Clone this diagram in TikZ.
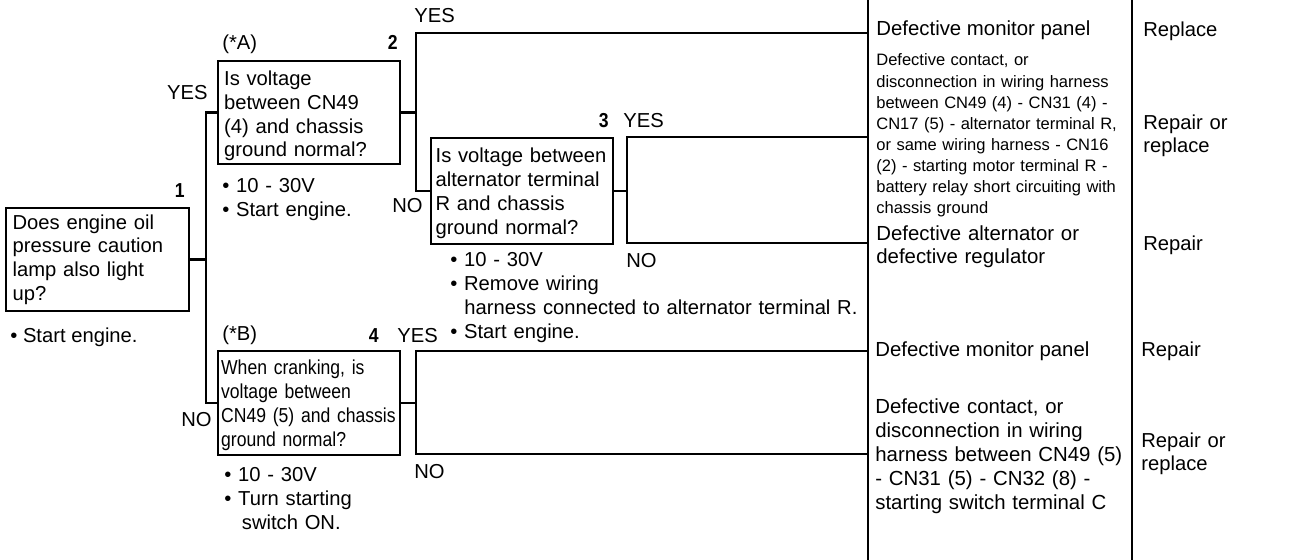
\documentclass[tikz,border=0pt]{standalone}
\usepackage{fontspec}
\setmainfont{Liberation Sans}
\newfontfamily\narrowfont[FakeStretch=0.87]{Liberation Sans}
\newcommand\qsize{\fontsize{11.5}{13.6}\selectfont}
\newcommand\fsize{\fontsize{9.4}{12}\selectfont}

\begin{document}
\begin{tikzpicture}[
  x=0.02cm, y=-0.02cm,
  font=\qsize,
  wire/.style={draw, line width=1.3pt},
  qbox/.style={draw, line width=1.3pt, anchor=north west, align=left, inner ysep=0pt},
  txt/.style={inner sep=0pt, anchor=base west, align=left},
  mtxt/.style={txt, text width=#1},
  rtxt/.style={inner sep=0pt, anchor=base east},
  num/.style={rtxt, font=\narrowfont\bfseries\qsize}
  ]
  \useasboundingbox (0,0) rectangle (1296,560);
  \hyphenpenalty=10000

  \node[qbox, text width=3.4cm, inner xsep=0.13cm, minimum height=2.06cm] (q1) at (5,207)
    {Does engine oil\\pressure caution\\lamp also light\\up?};
  \node[qbox, text width=3.4cm, inner xsep=0.12cm, minimum height=2.06cm] (q2) at (217,60)
    {\rule{0pt}{12pt}Is voltage\\between CN49\\(4) and chassis\\ground normal?};
  \node[qbox, text width=3.46cm, inner xsep=0.09cm, minimum height=2.12cm] (q3) at (430,137)
    {\rule{0pt}{11pt}Is voltage between\\alternator terminal\\R and chassis\\ground normal?};
  \node[qbox, font=\narrowfont\qsize, text width=3.52cm, inner xsep=0.06cm, minimum height=2.08cm] (q4) at (217,350)
    {\rule{0pt}{11pt}When cranking, is\\voltage between\\CN49 (5) and chassis\\ground normal?};

  \path (q1.east) ++(16,0) coordinate (j1);
  \path (q2.east) ++(15,0) coordinate (j2);
  \path (q3.east) ++(13,0) coordinate (j3);
  \path (q4.east) ++(15,0) coordinate (j4);
  \coordinate (r1) at (868,33);
  \coordinate (r2) at (868,137);
  \coordinate (r3) at (868,243);
  \coordinate (r4) at (868,351);
  \coordinate (r5) at (868,454);

  \draw[wire] (q1.east) -- (j1);
  \draw[wire] (q2.west) -| (j1) |- (q4.west);
  \draw[wire] (q2.east) -- (j2);
  \draw[wire] (r1) -| (j2) |- (q3.west);
  \draw[wire] (q3.east) -- (j3);
  \draw[wire] (r2) -| (j3) |- (r3);
  \draw[wire] (q4.east) -- (j4);
  \draw[wire] (r4) -| (j4) |- (r5);
  \draw[line width=1.4pt] (868,0) -- (868,560);
  \draw[line width=1.4pt] (1132,0) -- (1132,560);

  \node[num] (n1) at (185,198) {1};
  \node[num] (n2) at (398,50) {2};
  \node[num] (n3) at (609,128) {3};
  \node[num] (n4) at (379,343) {4};
  \node[txt] (tA) at (222,50) {(*A)};
  \node[txt] (tB) at (222,341) {(*B)};
  \node[rtxt] (y1) at (208,100) {YES};
  \node[rtxt] (no1) at (212,427) {NO};
  \node[txt] (y2) at (414,23) {YES};
  \node[rtxt] (no2) at (423,213) {NO};
  \node[txt] (y3) at (623,128) {YES};
  \node[txt] (no3) at (626,268) {NO};
  \node[txt] (y4) at (397,343) {YES};
  \node[txt] (no4) at (414,479) {NO};

  \node[txt] (m1) at (10,343) {\textbullet\ Start engine.};
  \node[mtxt=4cm] (m2) at (222,193) {\textbullet\ 10 - 30V\\\textbullet\ Start engine.};
  \node[mtxt=8.6cm] (m3) at (450,267) {\textbullet\ 10 - 30V\\\textbullet\ Remove wiring\\\hspace*{8pt}harness connected to alternator terminal R.\\\textbullet\ Start engine.};
  \node[mtxt=4cm] (m4) at (224,482) {\textbullet\ 10 - 30V\\\textbullet\ Turn starting\\\hspace*{10pt}switch ON.};

  \node[txt, font=\fontsize{11.6}{13}\selectfont] (c1) at (876,36) {Defective monitor panel};
  \node[mtxt=5cm, font=\fsize] (c2) at (876,66) {Defective contact, or\\disconnection in wiring harness\\between CN49 (4) - CN31 (4) -\\CN17 (5) - alternator terminal R,\\or same wiring harness - CN16\\(2) - starting motor terminal R -\\battery relay short circuiting with\\chassis ground};
  \node[mtxt=5cm, font=\fontsize{11.6}{13}\selectfont] (c3) at (876,241) {Defective alternator or\\defective regulator};
  \node[txt, font=\fontsize{11.6}{13}\selectfont] (c4) at (875,357) {Defective monitor panel};
  \node[mtxt=5cm, font=\fontsize{11.6}{13.6}\selectfont] (c5) at (875,414) {Defective contact, or\\disconnection in wiring\\harness between CN49 (5)\\- CN31 (5) - CN32 (8) -\\starting switch terminal C};

  \node[txt] (a1) at (1143,37) {Replace};
  \node[mtxt=2.6cm, font=\fontsize{11.5}{13}\selectfont] (a2) at (1143,130) {Repair or\\replace};
  \node[txt] (a3) at (1143,251) {Repair};
  \node[txt] (a4) at (1141,357) {Repair};
  \node[mtxt=2.6cm, font=\fontsize{11.5}{13}\selectfont] (a5) at (1141,448) {Repair or\\replace};
\end{tikzpicture}
\end{document}
